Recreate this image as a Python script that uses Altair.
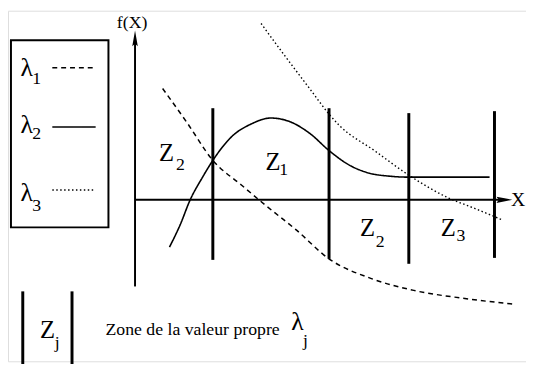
import altair as alt
import pandas as pd

# ---- data (units: X along the horizontal axis, f(X) vertical) ----
l1_x = [2.8, 5.3, 7.9, 10.8, 13.3, 16.3, 19.7, 24.0, 28.3, 33.3, 38.5]
l1_y = [11.3, 7.8, 4.0, 1.5, -0.6, -3.0, -6.0, -8.0, -9.2, -10.0, -10.6]
l2_x = [3.5, 4.6, 5.6, 6.8, 7.9, 9.8, 11.8, 13.8, 15.8, 17.8, 19.7, 21.8, 23.8, 25.8, 27.8, 36.0]
l2_y = [-4.8, -2.5, 0.0, 2.2, 4.0, 6.4, 7.7, 8.3, 7.9, 6.7, 5.0, 3.5, 2.7, 2.4, 2.3, 2.3]
l3_x = [12.8, 15.3, 17.8, 19.7, 20.8, 24.3, 27.8, 31.8, 34.3, 37.2]
l3_y = [17.9, 14.5, 11.2, 8.7, 7.5, 5.0, 2.5, 0.2, -0.8, -2.0]

zone_x = [7.9, 19.7, 27.8, 36.5]
zone_top = [9.3, 9.3, 8.8, 9.0]
zone_bot = [-6.1, -6.0, -6.5, -5.9]

zone_lbl_x = [3.2, 14.0, 23.6, 31.8]
zone_lbl_y = [4.7, 3.8, -2.9, -2.9]
zone_sub = ["2", "1", "2", "3"]
zone_sub_x = [4.6, 15.1, 24.9, 33.1]
zone_sub_y = [3.5, 3.0, -4.3, -3.7]

leg_names = ["λ", "λ", "λ"]
leg_subs = ["1", "2", "3"]
leg_lbl_y = [13.4, 7.6, 0.7]
leg_sub_y = [12.3, 6.7, -0.6]
leg_line_y = [13.4, 7.4, 1.0]
leg_dash = ["dashed", "solid", "dotted"]

FONT = "Liberation Serif"

XMIN, XMAX = -12.9, 39.7
YMIN, YMAX = -16.4, 19.2
xs = alt.Scale(domain=[XMIN, XMAX], nice=False, zero=False)
ys = alt.Scale(domain=[YMIN, YMAX], nice=False, zero=False)


def X(f):
    return alt.X(f, type="quantitative", scale=xs, axis=None)


def Y(f):
    return alt.Y(f, type="quantitative", scale=ys, axis=None)


curves = []
for xs_, ys_, dash, w in [(l1_x, l1_y, [5, 4], 1.5), (l2_x, l2_y, [1, 0], 1.6), (l3_x, l3_y, [1.5, 2.5], 1.4)]:
    df = pd.DataFrame({"x": xs_, "y": ys_})
    curves.append(
        alt.Chart(df).mark_line(color="black", strokeWidth=w, strokeDash=dash, interpolate="monotone")
        .encode(x=X("x"), y=Y("y"))
    )

axes_v = alt.Chart(pd.DataFrame({"x": [0.0], "y": [-8.8], "y2": [16.4]})).mark_rule(
    color="black", strokeWidth=2).encode(x=X("x"), y=Y("y"), y2="y2")
axes_h = alt.Chart(pd.DataFrame({"x": [0.0], "x2": [37.5], "y": [0.0]})).mark_rule(
    color="black", strokeWidth=2).encode(x=X("x"), x2="x2", y=Y("y"))
arrow_up = alt.Chart(pd.DataFrame({"x": [0.0], "y": [16.4]})).mark_point(
    shape="M0,-1L0.35,1L0,0.7L-0.35,1Z", size=256, filled=True, color="black", opacity=1
).encode(x=X("x"), y=Y("y"))
arrow_right = alt.Chart(pd.DataFrame({"x": [37.5], "y": [0.0]})).mark_point(
    shape="M1,0L-1,-0.4L-0.7,0L-1,0.4Z", size=256, filled=True, color="black", opacity=1
).encode(x=X("x"), y=Y("y"))

zones = alt.Chart(pd.DataFrame({"x": zone_x, "y": zone_bot, "y2": zone_top})).mark_rule(
    color="black", strokeWidth=3).encode(x=X("x"), y=Y("y"), y2="y2")

box = alt.Chart(pd.DataFrame({"x": [-12.6], "x2": [-2.7], "y": [-2.8], "y2": [16.2]})).mark_rect(
    fillOpacity=0, stroke="black", strokeWidth=2).encode(x=X("x"), x2="x2", y=Y("y"), y2="y2")

leg_lines = []
for yv, dash in zip(leg_line_y, leg_dash):
    sd = {"dashed": [5, 4], "solid": [1, 0], "dotted": [1.5, 2.5]}[dash]
    leg_lines.append(
        alt.Chart(pd.DataFrame({"x": [-8.4], "x2": [-4.0], "y": [yv]})).mark_rule(
            color="black", strokeWidth=1.5, strokeDash=sd).encode(x=X("x"), x2="x2", y=Y("y"))
    )

bars = alt.Chart(pd.DataFrame({"x": [-11.4, -6.4], "y": [-17.0, -17.0], "y2": [-9.3, -9.3]})).mark_rule(
    color="black", strokeWidth=3).encode(x=X("x"), y=Y("y"), y2="y2")


def txt(xv, yv, labels, fs, align="center"):
    df = pd.DataFrame({"x": xv, "y": yv, "t": labels})
    return alt.Chart(df).mark_text(font=FONT, fontSize=fs, color="black", baseline="middle", align=align).encode(
        x=X("x"), y=Y("y"), text="t:N")


t_zone = txt(zone_lbl_x, zone_lbl_y, ["Z"] * 4, 25)
t_zsub = txt(zone_sub_x, zone_sub_y, zone_sub, 18)
t_leg = txt([-11.0] * 3, leg_lbl_y, leg_names, 26)
t_lsub = txt([-10.0] * 3, leg_sub_y, leg_subs, 18)
t_zj = txt([-8.9], [-13.2], ["Z"], 25)
t_zjs = txt([-7.9], [-14.5], ["j"], 18)
t_lj = txt([16.5], [-12.4], ["λ"], 26)
t_ljs = txt([17.3], [-14.3], ["j"], 18)
t_fx = txt([-0.3], [17.9], ["f(X)"], 18)
t_x = txt([38.9], [0.0], ["X"], 20)
zone_text = txt([-3.0], [-13.2], ["Zone de la valeur propre"], 18, align="left")

chart = alt.layer(
    *curves, axes_v, axes_h, arrow_up, arrow_right, zones, box, *leg_lines, bars,
    t_zone, t_zsub, t_leg, t_lsub, t_zj, t_zjs, t_lj, t_ljs, t_fx, t_x, zone_text
).properties(width=526, height=356, padding=0, autosize=alt.AutoSizeParams(type="none")).configure_view(
    strokeWidth=0).configure(background="white")

chart.save("out.html", embed_options={"renderer": "svg", "actions": False})
